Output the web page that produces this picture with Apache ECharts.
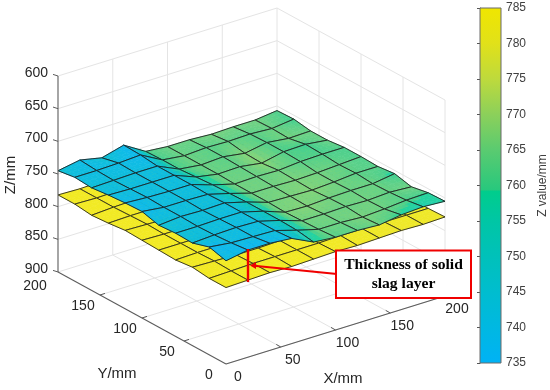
<!DOCTYPE html>
<html><head><meta charset="utf-8">
<script src="https://cdn.jsdelivr.net/npm/echarts@6/dist/echarts.min.js"></script>
<style>html,body{margin:0;background:#fff}#c{width:550px;height:390px}</style></head>
<body><div id="c"></div>
<script>
const gridX = [0,20,40,60,80,100,120,140,160,180,200];
const gridY = [0,20,40,60,80,100,120,140,160,180,200];
// rows: Y ascending; columns: X ascending
const upperZ = [
[742,736,736,739,755,758,758,760,755,753,755],
[735,739,740,741,751,760,760,762,760,757,756],
[743,741,740,741,750,761,761,760,761,759,761],
[742,742,741,741,750,762,763,761,760,760,755],
[744,741,742,741,750,761,762,763,761,758,758],
[737,741,741,742,751,761,761,762,761,759,757],
[738,740,741,741,752,761,760,761,758,757,757],
[740,741,741,741,754,760,759,764,757,756,760],
[743,742,741,741,756,760,758,763,757,761,760],
[741,741,740,738,756,760,758,759,758,760,756],
[745,739,746,737,757,760,760,762,761,761,757]];
const lowerZ = [
[783,782,781,782,781,780,781,780,779,780,779],
[783,782,781,781,781,781,780,780,780,780,780],
[780,781,782,782,781,781,781,780,780,780,779],
[783,782,782,781,781,781,781,781,780,780,780],
[782,782,782,782,781,781,781,781,781,780,780],
[781,782,782,781,781,781,781,781,781,780,781],
[780,781,782,782,781,781,781,781,780,781,780],
[783,782,782,781,781,781,781,781,780,780,781],
[785,783,782,782,781,781,781,780,781,780,780],
[782,783,782,781,781,781,780,781,780,780,781],
[782,783,782,781,781,780,781,780,780,781,780]];
const xTicks = [0,50,100,150,200];
const yTicks = [0,50,100,150,200];
const zTicks = [600,650,700,750,800,850,900];
const barTicks = [735,740,745,750,755,760,765,770,775,780,785];
const colorStops = [
[735,[0,178,245]],[740,[0,184,226]],[745,[0,189,207]],[750,[0,193,186]],[755,[0,198,165]],[759.2,[0,205,140]],
[759.4,[40,200,125]],[765,[90,203,112]],[770,[140,208,90]],[775,[190,218,60]],[780,[225,225,25]],[785,[240,230,0]]];

const O = {x:226,y:364}, ux={x:219/200,y:-68/200}, uy={x:-168/200,y:-92/200}, uz=196/300;
function proj(X,Y,Z){ return [O.x+ux.x*X+uy.x*Y, O.y+ux.y*X+uy.y*Y-(900-Z)*uz]; }
function cmap(z,tint){
  let a=colorStops[0],b=colorStops[colorStops.length-1];
  if(z<=a[0]) b=a; else if(z<b[0]) { for(let k=0;k<colorStops.length-1;k++){ if(z>=colorStops[k][0]&&z<=colorStops[k+1][0]){a=colorStops[k];b=colorStops[k+1];break;} } } else a=b;
  const t=b[0]===a[0]?0:(z-a[0])/(b[0]-a[0]);
  const c=[0,1,2].map(n=>a[1][n]+(b[1][n]-a[1][n])*t).map(v=>Math.round(v+(255-v)*tint));
  return `rgb(${c[0]},${c[1]},${c[2]})`;
}
// the surface is seen translucent: greens read lighter than the bar
function faceColor(z){
  const cz = z<750 ? z : z+4*Math.min(1,(z-750)/8);
  return cmap(cz, z<750 ? 0.06 : 0.14);
}
function cells(){ const r=[];
  for(let j=gridY.length-2;j>=0;j--) for(let i=gridX.length-2;i>=0;i--) r.push([i,j]);
  return r; }
function surfaceItem(Zs,api,i,j){
  const n=4, kids=[];
  const z=(u,v)=>(1-u)*(1-v)*Zs[j][i]+u*(1-v)*Zs[j][i+1]+(1-u)*v*Zs[j+1][i]+u*v*Zs[j+1][i+1];
  const P=(u,v)=>api.coord(proj(gridX[i]+(gridX[i+1]-gridX[i])*u,gridY[j]+(gridY[j+1]-gridY[j])*v,z(u,v)));
  for(let a=0;a<n;a++)for(let b=0;b<n;b++){
    const u0=a/n,u1=(a+1)/n,v0=b/n,v1=(b+1)/n,col=faceColor(z((u0+u1)/2,(v0+v1)/2));
    kids.push({type:'polygon',shape:{points:[P(u0,v0),P(u1,v0),P(u1,v1),P(u0,v1)]},style:{fill:col,stroke:col,lineWidth:.6}});
  }
  kids.push({type:'polygon',shape:{points:[P(0,0),P(1,0),P(1,1),P(0,1)]},style:{fill:'none',stroke:'#1c1c1c',lineWidth:.85}});
  return {type:'group',children:kids,silent:true};
}
function line(api,a,b,stroke,w){ return {type:'line',shape:{x1:a[0],y1:a[1],x2:b[0],y2:b[1]},style:{stroke,lineWidth:w},silent:true}; }
function wallItems(api){
  const c=p=>api.coord(p), k=[], g='#e4e4e4';
  zTicks.forEach(z=>{ k.push(line(api,c(proj(0,200,z)),c(proj(200,200,z)),g,1)); k.push(line(api,c(proj(200,200,z)),c(proj(200,0,z)),g,1)); });
  xTicks.slice(1).forEach(x=>{ k.push(line(api,c(proj(x,200,600)),c(proj(x,200,900)),g,1)); k.push(line(api,c(proj(x,200,900)),c(proj(x,0,900)),g,1)); });
  yTicks.slice(0,-1).forEach(y=>{ k.push(line(api,c(proj(200,y,600)),c(proj(200,y,900)),g,1)); k.push(line(api,c(proj(0,y,900)),c(proj(200,y,900)),g,1)); });
  return k;
}
function axisItems(api){
  const c=p=>api.coord(p), k=[], d='#5c5c5c', t='#262626';
  k.push(line(api,c(proj(0,200,600)),c(proj(0,200,900)),d,1.1));
  k.push(line(api,c(proj(0,200,900)),c(proj(0,0,900)),d,1.1));
  k.push(line(api,c(proj(0,0,900)),c(proj(200,0,900)),d,1.1));
  zTicks.forEach(z=>{const p=c(proj(0,200,z));k.push(line(api,p,[p[0]-5,p[1]-1.6],d,1));
    k.push({type:'text',style:{text:String(z),x:p[0]-10,y:p[1]-3,align:'right',verticalAlign:'middle',font:'14px "Liberation Sans"',fill:t}});});
  yTicks.forEach(y=>{const p=c(proj(0,y,900));if(y>0&&y<200)k.push(line(api,p,[p[0]+5,p[1]-1.6],d,1));
    const q=[p[0]-17-(y==200?6:0),p[1]+11+(y==200?3:0)]; if(y==0){q[0]=209;q[1]=375;}
    k.push({type:'text',style:{text:String(y),x:q[0],y:q[1],align:'center',verticalAlign:'middle',font:'14px "Liberation Sans"',fill:t}});});
  xTicks.forEach(x=>{const p=c(proj(x,0,900));if(x>0)k.push(line(api,p,[p[0]-4.5,p[1]-2.6],d,1));
    k.push({type:'text',style:{text:String(x),x:p[0]+12,y:p[1]+13,align:'center',verticalAlign:'middle',font:'14px "Liberation Sans"',fill:t}});});
  const lab=(s,x,y,r)=>k.push({type:'text',x,y,rotation:r||0,style:{text:s,x:0,y:0,align:'center',verticalAlign:'middle',font:'15px "Liberation Sans"',fill:t}});
  lab('Z/mm',11,175,Math.PI/2); lab('Y/mm',117,374); lab('X/mm',343,379);
  return k;
}
function ghostItems(api,Zs,alpha){
  const k=[],P=(i,j)=>api.coord(proj(gridX[i],gridY[j],Zs[j][i]));
  for(let j=0;j<gridY.length;j++)for(let i=0;i<gridX.length;i++){
    if(i<gridX.length-1)k.push(line(api,P(i,j),P(i+1,j),`rgba(0,0,0,${alpha})`,1));
    if(j<gridY.length-1)k.push(line(api,P(i,j),P(i,j+1),`rgba(0,0,0,${alpha})`,1));
  }
  return k;
}
function annoItems(api){
  const r='#f00000',k=[];
  k.push(line(api,[248,249],[248,282],r,2.4));
  k.push(line(api,[337,274],[254,265.8],r,2));
  k.push({type:'polygon',shape:{points:[[250,265.4],[256,262],[256,269]]},style:{fill:r}});
  k.push({type:'rect',shape:{x:336,y:250.5,width:135,height:47.5},style:{fill:'#fff',stroke:r,lineWidth:2}});
  k.push({type:'text',style:{text:'Thickness of solid',x:403.5,y:264.5,align:'center',verticalAlign:'middle',font:'bold 15.6px "Liberation Serif"',fill:'#000'}});
  k.push({type:'text',style:{text:'slag layer',x:403.5,y:284,align:'center',verticalAlign:'middle',font:'bold 15.6px "Liberation Serif"',fill:'#000'}});
  return k;
}
const groupSeries=(fn,z)=>({type:'custom',coordinateSystem:'cartesian2d',xAxisIndex:0,yAxisIndex:0,z,silent:true,clip:false,data:[0],
  renderItem:(p,api)=>({type:'group',children:fn(api)})});
const chart=echarts.init(document.getElementById('c'),null,{renderer:'canvas'});
chart.setOption({animation:false,backgroundColor:'#fff',
 grid:[{left:0,top:0,width:550,height:390},{left:480,top:8,width:22,height:355}],
 xAxis:[{type:'value',min:0,max:550,show:false,gridIndex:0},{type:'value',min:0,max:1,show:false,gridIndex:1}],
 yAxis:[{type:'value',min:0,max:390,inverse:true,show:false,gridIndex:0},
  {type:'value',min:735,max:785,interval:5,gridIndex:1,position:'right',splitLine:{show:false},
   axisLine:{show:true,lineStyle:{color:'#6a6a6a'}},axisTick:{show:true,inside:true,length:3,lineStyle:{color:'#555'}},
   axisLabel:{margin:5,fontFamily:'Liberation Sans',fontSize:12,color:'#404040',formatter:v=>barTicks.includes(v)?String(v):''},
   name:'Z value/mm',nameLocation:'middle',nameGap:36,nameRotate:90,nameTextStyle:{fontFamily:'Liberation Sans',fontSize:12,color:'#404040'}}],
 series:[
  groupSeries(wallItems,1),
  {type:'custom',coordinateSystem:'cartesian2d',z:2,silent:true,clip:false,data:cells(),renderItem:(p,api)=>surfaceItem(lowerZ,api,api.value(0),api.value(1)),encode:{x:0,y:1}},
  {type:'custom',coordinateSystem:'cartesian2d',z:3,silent:true,clip:false,data:cells(),renderItem:(p,api)=>surfaceItem(upperZ,api,api.value(0),api.value(1)),encode:{x:0,y:1}},
  groupSeries(api=>ghostItems(api,upperZ,.06),4),
  groupSeries(axisItems,5),
  groupSeries(annoItems,6),
  {type:'custom',coordinateSystem:'cartesian2d',xAxisIndex:1,yAxisIndex:1,z:2,silent:true,data:[[0,735,785]],encode:{y:[1,2]},
   renderItem:(p,api)=>{const a=api.coord([0,api.value(1)]),b=api.coord([1,api.value(2)]);
    const L=colorStops[colorStops.length-1][0],F=colorStops[0][0];
    return {type:'rect',shape:{x:a[0],y:b[1],width:b[0]-a[0],height:a[1]-b[1]},
     style:{stroke:'#6a6a6a',lineWidth:1,fill:new echarts.graphic.LinearGradient(0,0,0,1,colorStops.slice().reverse().map(s=>({offset:(L-s[0])/(L-F),color:`rgb(${s[1].join(',')})`})))}};}}
 ]});
</script></body></html>
